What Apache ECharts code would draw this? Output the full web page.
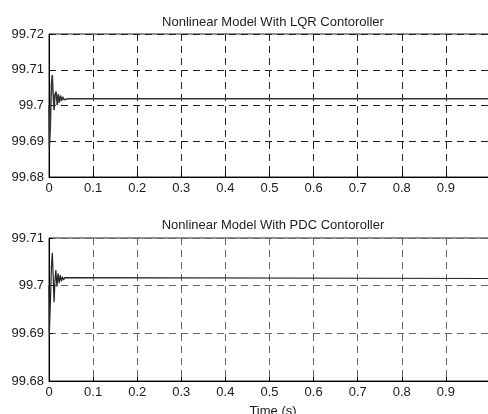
<!DOCTYPE html>
<html>
<head>
<meta charset="utf-8">
<script src="https://cdn.jsdelivr.net/npm/echarts@6/dist/echarts.min.js"></script>
<style>html,body{margin:0;padding:0;background:#fff}#c{width:488px;height:414px}</style>
</head>
<body>
<div id="c"></div>
<script>
var titleTop = 'Nonlinear Model With LQR Contoroller';
var titleBottom = 'Nonlinear Model With PDC Contoroller';
var xName = 'Time (s)';
var xTicks = [0, 0.1, 0.2, 0.3, 0.4, 0.5, 0.6, 0.7, 0.8, 0.9];

var tLQR = [0, 0.001, 0.003, 0.0055, 0.0075, 0.009, 0.0115, 0.0135, 0.016, 0.0187, 0.021, 0.0235, 0.026, 0.0285, 0.031, 0.034, 0.037, 0.04, 0.045, 1.0];
var vLQR = [99.700, 99.6885, 99.694, 99.706, 99.7085, 99.704, 99.6987, 99.7030, 99.7039, 99.7001, 99.7032, 99.7008, 99.7028, 99.7013, 99.7024, 99.7016, 99.7021, 99.7018, 99.7019, 99.7019];

var tPDC = [0, 0.0008, 0.003, 0.0055, 0.0075, 0.0095, 0.0115, 0.0135, 0.0155, 0.018, 0.0205, 0.023, 0.0255, 0.028, 0.0305, 0.033, 0.036, 0.04, 1.0];
var vPDC = [99.700, 99.690, 99.696, 99.704, 99.7069, 99.702, 99.6965, 99.701, 99.7033, 99.6998, 99.7026, 99.7005, 99.7022, 99.7009, 99.7019, 99.7012, 99.7017, 99.7015, 99.7015];

function pairs(t, v) { return t.map(function (x, i) { return [x, v[i]]; }); }

var font = 'Liberation Sans, Arial, sans-serif';
function yFmt(v) { return String(parseFloat(v.toFixed(2))); }
function xFmt(v) { var r = parseFloat(v.toFixed(1)); return xTicks.indexOf(r) >= 0 ? String(r) : ''; }

function xAxis(gi, gridColor) {
  return {
    gridIndex: gi, type: 'value', min: 0, max: 1, interval: 0.1,
    axisLine: { show: true, onZero: false, lineStyle: { color: '#000', width: 1 } },
    axisTick: { show: true, inside: true, length: 4, lineStyle: { color: '#000' } },
    axisLabel: { formatter: xFmt, color: '#1a1a1a', fontSize: 13, fontFamily: font, margin: 5, showMaxLabel: false },
    splitLine: { show: true, lineStyle: { color: gridColor, type: [7, 5], width: 1 } }
  };
}
function yAxis(gi, min, max, gridColor) {
  return {
    gridIndex: gi, type: 'value', min: min, max: max, interval: 0.01,
    axisLine: { show: true, onZero: false, lineStyle: { color: '#000', width: 1 } },
    axisTick: { show: true, inside: true, length: 4, lineStyle: { color: '#000' } },
    axisLabel: { formatter: yFmt, color: '#1a1a1a', fontSize: 13, fontFamily: font, margin: 5 },
    splitLine: { show: true, lineStyle: { color: gridColor, type: [7, 5], width: 1 } }
  };
}

var chart = echarts.init(document.getElementById('c'), null, { renderer: 'canvas' });
chart.setOption({
  animation: false,
  backgroundColor: '#fff',
  title: [
    { text: titleTop, left: 268, top: 11, textAlign: 'center', textStyle: { fontSize: 13, fontWeight: 'normal', color: '#222', fontFamily: font } },
    { text: titleBottom, left: 268, top: 214, textAlign: 'center', textStyle: { fontSize: 13, fontWeight: 'normal', color: '#222', fontFamily: font } },
    { text: xName, left: 268, top: 400, textAlign: 'center', textStyle: { fontSize: 13, fontWeight: 'normal', color: '#1a1a1a', fontFamily: font } }
  ],
  grid: [
    { left: 49, top: 34, height: 143, width: 441, outerBoundsMode: 'none', containLabel: false, show: true, borderColor: '#222', borderWidth: 1, backgroundColor: 'transparent' },
    { left: 49, top: 238, height: 143, width: 441, outerBoundsMode: 'none', containLabel: false, show: true, borderColor: '#222', borderWidth: 1, backgroundColor: 'transparent' }
  ],
  xAxis: [xAxis(0, '#222'), xAxis(1, '#666')],
  yAxis: [yAxis(0, 99.68, 99.72, '#222'), yAxis(1, 99.68, 99.71, '#666')],
  series: [
    { type: 'line', xAxisIndex: 0, yAxisIndex: 0, data: pairs(tLQR, vLQR), showSymbol: false, symbol: 'none', lineStyle: { color: '#333', width: 1.5 } },
    { type: 'line', xAxisIndex: 1, yAxisIndex: 1, data: pairs(tPDC, vPDC), showSymbol: false, symbol: 'none', lineStyle: { color: '#222', width: 1.2 } }
  ]
});
</script>
</body>
</html>
